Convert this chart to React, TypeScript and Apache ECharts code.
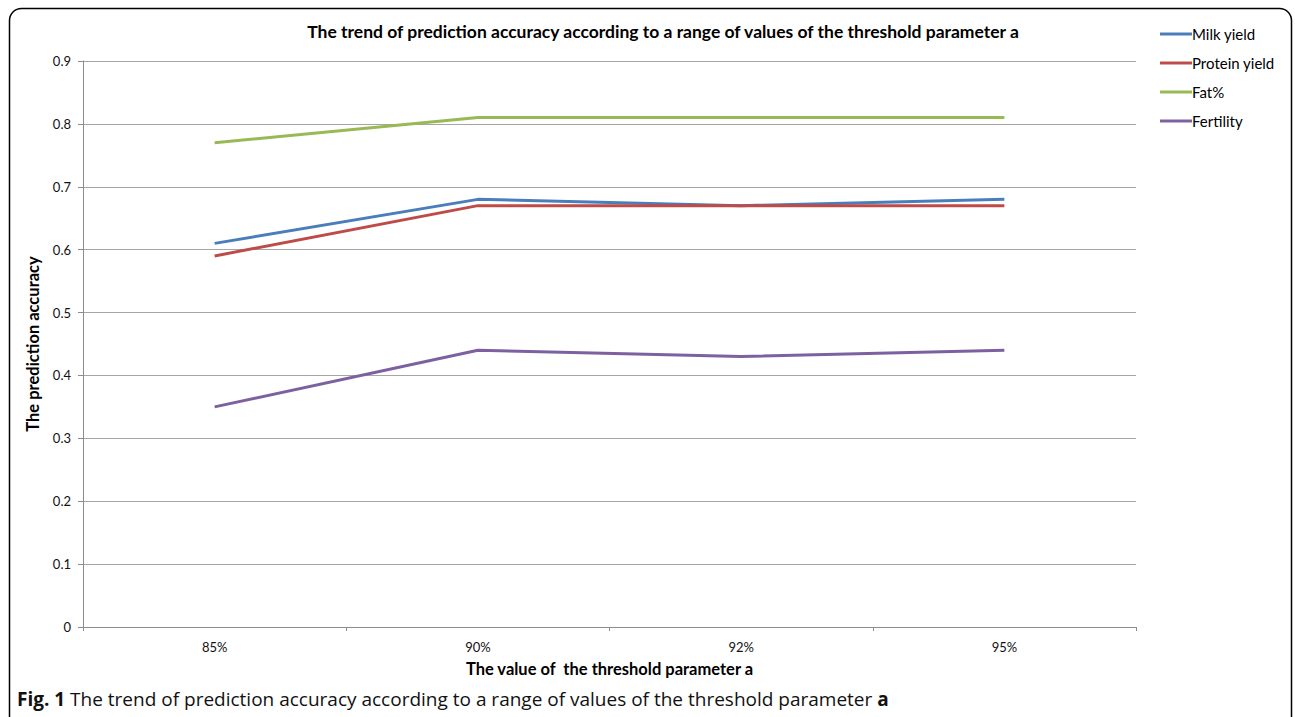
import React, { useEffect, useRef } from "react";
import * as echarts from "echarts";

const categories = ["85%", "90%", "92%", "95%"];
const milkYield = [0.61, 0.68, 0.67, 0.68];
const proteinYield = [0.59, 0.67, 0.67, 0.67];
const fatPct = [0.77, 0.81, 0.81, 0.81];
const fertility = [0.35, 0.44, 0.43, 0.44];
const seriesNames = ["Milk yield", "Protein yield", "Fat%", "Fertility"];
const seriesColors = ["#4A7EBB", "#BE4B48", "#98B954", "#7D60A0"];

const chartFont = "Lato, 'Open Sans', sans-serif";

export default function App() {
  const ref = useRef<HTMLDivElement>(null);
  useEffect(() => {
    if (!ref.current) return;
    const chart = echarts.init(ref.current, null, { renderer: "svg" });
    const data = [milkYield, proteinYield, fatPct, fertility];
    chart.setOption({
      animation: false,
      backgroundColor: "#ffffff",
      title: {
        text: "The trend of prediction accuracy according to a range of values of the threshold parameter a",
        left: 658,
        textAlign: "center",
        top: 17,
        textStyle: { fontFamily: chartFont, fontSize: 17.5, fontWeight: "bold", color: "#000" },
      },
      legend: {
        orient: "vertical",
        left: 1155,
        top: 21,
        itemWidth: 32,
        itemHeight: 3,
        itemGap: 13,
        icon: "rect",
        data: seriesNames,
        textStyle: { fontFamily: chartFont, fontSize: 15, color: "#000", lineHeight: 16, padding: [0, 0, 0, -5] },
      },
      grid: { left: 83, right: 159, top: 61, bottom: 90, containLabel: false },
      xAxis: {
        type: "category",
        data: categories,
        boundaryGap: true,
        name: "The value of  the threshold parameter a",
        nameLocation: "middle",
        nameGap: 33,
        nameTextStyle: { fontFamily: chartFont, fontSize: 16.5, fontWeight: "bold", color: "#000" },
        axisLine: { lineStyle: { color: "#8c8c8c", width: 1 } },
        axisTick: { show: true, length: 4, lineStyle: { color: "#8c8c8c" } },
        axisLabel: { fontFamily: chartFont, fontSize: 13, color: "#111", margin: 13 },
      },
      yAxis: {
        type: "value",
        min: 0,
        max: 0.9,
        interval: 0.1,
        name: "The prediction accuracy",
        nameLocation: "middle",
        nameGap: 34,
        nameTextStyle: { fontFamily: chartFont, fontSize: 16.5, fontWeight: "bold", color: "#000" },
        axisLine: { show: true, lineStyle: { color: "#8c8c8c", width: 1 } },
        axisTick: { show: true, length: 5, lineStyle: { color: "#8c8c8c" } },
        axisLabel: {
          fontFamily: chartFont,
          fontSize: 13,
          color: "#111",
          margin: 12,
          formatter: (v: number) => (v === 0 ? "0" : String(Math.round(v * 10) / 10)),
        },
        splitLine: { lineStyle: { color: "#a6a6a6", width: 1 } },
      },
      series: seriesNames.map((n, i) => ({
        name: n,
        type: "line",
        data: data[i],
        showSymbol: false,
        symbol: "none",
        lineStyle: { color: seriesColors[i], width: 3 },
        itemStyle: { color: seriesColors[i] },
      })),
      graphic: [
        {
          type: "rect",
          shape: { x: 9.5, y: 8.5, width: 1282, height: 730, r: 12 },
          style: { fill: "none", stroke: "#000", lineWidth: 1.5 },
          silent: true,
          z: 100,
        },
        {
          type: "text",
          left: 17,
          top: 689,
          style: {
            text: "{b|Fig. 1} The trend of prediction accuracy according to a range of values of the threshold parameter {b|a}",
            font: "19px 'Open Sans', sans-serif",
            fill: "#111",
            rich: {
              b: { fontFamily: "'Open Sans', sans-serif", fontSize: 19, fontWeight: "bold", fill: "#111" },
            },
          },
          z: 100,
        },
      ],
    });
    return () => chart.dispose();
  }, []);
  return (
    <div
      ref={ref}
      style={{ position: "fixed", left: 0, top: 0, width: 1295, height: 717, background: "#fff" }}
    />
  );
}
